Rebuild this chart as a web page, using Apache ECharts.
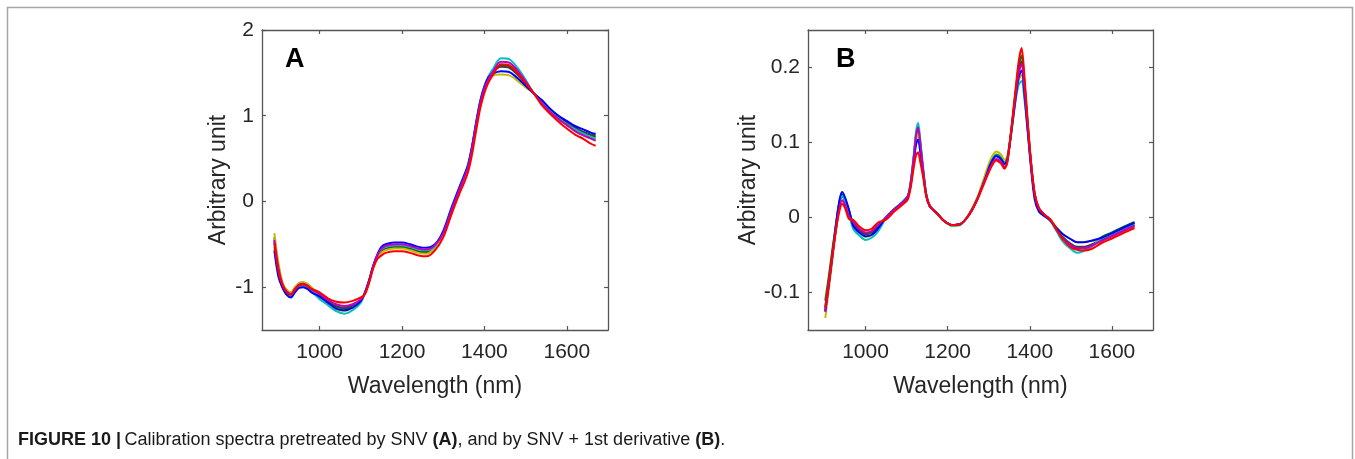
<!DOCTYPE html>
<html><head><meta charset="utf-8">
<script src="https://cdn.jsdelivr.net/npm/echarts@6/dist/echarts.min.js"></script>
<style>html,body{margin:0;padding:0;background:#fff}#c{width:1355px;height:459px}</style>
</head><body><div id="c"></div>
<script>
// ---------- Panel A: SNV spectra ----------
const wavelengthA = [890,900,910,920,930,940,950,960,970,980,1000,1020,1040,1060,1080,1100,1110,1120,1130,1140,1150,1160,1180,1200,1220,1240,1260,1280,1300,1320,1340,1350,1360,1370,1380,1390,1400,1410,1420,1440,1460,1480,1500,1520,1540,1560,1580,1600,1620,1640,1660,1670];
const snvBlue = [-0.57,-0.88,-1.01,-1.09,-1.12,-1.06,-1.01,-1.00,-1.02,-1.06,-1.11,-1.18,-1.25,-1.27,-1.24,-1.16,-1.06,-0.92,-0.75,-0.62,-0.53,-0.50,-0.48,-0.48,-0.50,-0.53,-0.54,-0.50,-0.35,-0.08,0.17,0.29,0.42,0.64,0.92,1.17,1.34,1.45,1.49,1.52,1.51,1.44,1.35,1.26,1.18,1.08,1.00,0.94,0.88,0.84,0.80,0.79];
const snvGreen = [-0.47,-0.80,-0.98,-1.06,-1.09,-1.03,-0.98,-0.97,-0.99,-1.03,-1.10,-1.17,-1.23,-1.25,-1.22,-1.15,-1.07,-0.93,-0.76,-0.64,-0.58,-0.55,-0.53,-0.53,-0.55,-0.58,-0.59,-0.53,-0.37,-0.10,0.15,0.27,0.40,0.62,0.90,1.15,1.32,1.43,1.50,1.59,1.58,1.50,1.38,1.26,1.16,1.06,0.98,0.91,0.86,0.81,0.77,0.75];
const snvRed = [-0.49,-0.82,-0.98,-1.06,-1.09,-1.03,-0.98,-0.97,-0.99,-1.02,-1.06,-1.13,-1.17,-1.18,-1.16,-1.12,-1.08,-0.95,-0.78,-0.67,-0.63,-0.60,-0.58,-0.58,-0.60,-0.63,-0.64,-0.57,-0.42,-0.15,0.10,0.21,0.34,0.55,0.83,1.09,1.27,1.39,1.47,1.60,1.59,1.50,1.38,1.26,1.12,1.02,0.93,0.85,0.78,0.73,0.67,0.65];
const snvCyan = [-0.53,-0.85,-1.00,-1.08,-1.11,-1.05,-1.00,-0.99,-1.01,-1.05,-1.14,-1.21,-1.28,-1.31,-1.27,-1.18,-1.06,-0.92,-0.75,-0.63,-0.56,-0.53,-0.51,-0.51,-0.53,-0.56,-0.57,-0.52,-0.34,-0.07,0.18,0.30,0.43,0.65,0.93,1.18,1.35,1.46,1.54,1.67,1.66,1.56,1.42,1.26,1.15,1.05,0.97,0.90,0.84,0.79,0.75,0.73];
const snvMagenta = [-0.45,-0.78,-0.97,-1.05,-1.08,-1.02,-0.97,-0.96,-0.98,-1.02,-1.08,-1.15,-1.20,-1.22,-1.20,-1.14,-1.07,-0.93,-0.76,-0.63,-0.55,-0.52,-0.50,-0.50,-0.52,-0.55,-0.56,-0.51,-0.37,-0.10,0.15,0.27,0.40,0.62,0.90,1.15,1.32,1.43,1.51,1.63,1.62,1.53,1.40,1.26,1.14,1.04,0.96,0.89,0.82,0.77,0.73,0.71];
const snvYellow = [-0.37,-0.72,-0.95,-1.03,-1.06,-1.00,-0.95,-0.94,-0.96,-1.00,-1.12,-1.19,-1.26,-1.28,-1.24,-1.16,-1.08,-0.94,-0.77,-0.65,-0.60,-0.57,-0.55,-0.55,-0.57,-0.60,-0.61,-0.54,-0.39,-0.12,0.13,0.25,0.38,0.60,0.88,1.13,1.30,1.41,1.47,1.48,1.47,1.41,1.33,1.26,1.15,1.04,0.96,0.89,0.82,0.77,0.73,0.71];
const snvDark = [-0.42,-0.76,-0.96,-1.04,-1.07,-1.01,-0.96,-0.95,-0.97,-1.01,-1.09,-1.16,-1.22,-1.24,-1.21,-1.15,-1.07,-0.93,-0.76,-0.65,-0.59,-0.56,-0.54,-0.54,-0.56,-0.59,-0.60,-0.54,-0.36,-0.09,0.16,0.28,0.41,0.63,0.91,1.16,1.33,1.44,1.51,1.57,1.56,1.48,1.37,1.26,1.17,1.07,0.99,0.92,0.86,0.81,0.78,0.77];

// ---------- Panel B: SNV + 1st derivative ----------
const wavelengthB = [902,910,920,930,937,943,950,960,970,985,1000,1015,1030,1050,1070,1090,1103,1110,1117,1123,1128,1133,1140,1148,1156,1165,1175,1190,1210,1230,1250,1270,1290,1305,1318,1330,1338,1345,1355,1365,1373,1380,1387,1395,1403,1412,1422,1435,1450,1465,1480,1500,1515,1530,1550,1575,1600,1630,1655];
const derBlue = [-0.125,-0.092,-0.048,-0.002,0.024,0.034,0.027,0.010,-0.011,-0.020,-0.025,-0.023,-0.015,0.000,0.011,0.020,0.028,0.043,0.072,0.097,0.104,0.089,0.061,0.029,0.015,0.010,0.005,-0.004,-0.010,-0.009,0.002,0.022,0.050,0.072,0.082,0.078,0.071,0.077,0.114,0.158,0.187,0.196,0.165,0.115,0.066,0.024,0.008,0.002,-0.004,-0.014,-0.022,-0.029,-0.033,-0.033,-0.031,-0.027,-0.021,-0.013,-0.007];
const derGreen = [-0.111,-0.081,-0.040,-0.003,0.020,0.028,0.022,0.006,-0.008,-0.017,-0.022,-0.020,-0.012,0.000,0.011,0.020,0.028,0.046,0.077,0.108,0.118,0.100,0.065,0.030,0.016,0.010,0.005,-0.004,-0.010,-0.009,0.002,0.022,0.051,0.073,0.084,0.080,0.073,0.079,0.117,0.166,0.201,0.216,0.181,0.125,0.074,0.031,0.012,0.004,-0.003,-0.015,-0.027,-0.037,-0.041,-0.041,-0.038,-0.026,-0.020,-0.012,-0.006];
const derRed = [-0.120,-0.088,-0.046,-0.010,0.010,0.018,0.013,-0.002,-0.003,-0.012,-0.017,-0.015,-0.007,-0.003,0.008,0.017,0.024,0.040,0.065,0.083,0.087,0.075,0.055,0.028,0.016,0.010,0.005,-0.004,-0.010,-0.009,0.002,0.021,0.047,0.066,0.076,0.072,0.065,0.073,0.118,0.169,0.208,0.226,0.188,0.128,0.074,0.032,0.013,0.004,-0.003,-0.016,-0.029,-0.040,-0.043,-0.044,-0.042,-0.034,-0.028,-0.020,-0.014];
const derCyan = [-0.124,-0.091,-0.049,-0.003,0.021,0.029,0.023,0.006,-0.015,-0.024,-0.030,-0.027,-0.019,-0.001,0.011,0.021,0.029,0.048,0.081,0.114,0.126,0.106,0.067,0.031,0.016,0.010,0.005,-0.004,-0.011,-0.010,0.002,0.022,0.050,0.072,0.083,0.079,0.072,0.077,0.113,0.154,0.177,0.182,0.157,0.115,0.070,0.030,0.012,0.003,-0.005,-0.018,-0.032,-0.042,-0.047,-0.045,-0.039,-0.028,-0.022,-0.014,-0.008];
const derMagenta = [-0.126,-0.093,-0.049,-0.008,0.014,0.023,0.017,0.001,-0.006,-0.015,-0.020,-0.018,-0.010,0.000,0.011,0.020,0.028,0.046,0.078,0.109,0.120,0.101,0.065,0.030,0.016,0.010,0.005,-0.004,-0.010,-0.009,0.002,0.022,0.049,0.068,0.078,0.074,0.067,0.073,0.115,0.161,0.193,0.204,0.173,0.121,0.072,0.030,0.012,0.004,-0.003,-0.016,-0.028,-0.037,-0.041,-0.041,-0.038,-0.031,-0.025,-0.017,-0.011];
const derYellow = [-0.134,-0.100,-0.055,-0.009,0.014,0.022,0.016,0.000,-0.012,-0.021,-0.026,-0.024,-0.016,0.001,0.011,0.020,0.028,0.045,0.075,0.103,0.112,0.095,0.063,0.030,0.016,0.010,0.005,-0.004,-0.011,-0.010,0.003,0.024,0.055,0.078,0.088,0.084,0.077,0.081,0.114,0.156,0.183,0.190,0.163,0.117,0.070,0.029,0.011,0.003,-0.003,-0.013,-0.022,-0.029,-0.033,-0.033,-0.031,-0.032,-0.026,-0.018,-0.012];
const derDark = [-0.120,-0.088,-0.045,-0.001,0.022,0.031,0.025,0.009,-0.008,-0.017,-0.022,-0.020,-0.012,0.000,0.011,0.020,0.028,0.045,0.077,0.106,0.116,0.098,0.064,0.030,0.016,0.010,0.005,-0.004,-0.010,-0.009,0.002,0.022,0.051,0.072,0.082,0.078,0.071,0.076,0.116,0.163,0.196,0.208,0.176,0.122,0.072,0.030,0.012,0.004,-0.003,-0.015,-0.026,-0.035,-0.039,-0.039,-0.036,-0.030,-0.024,-0.016,-0.010];

// ---------- tick labels / texts ----------
const xTicks = [1000, 1200, 1400, 1600];
const yTicksA = [-1, 0, 1, 2];
const yTicksB = [-0.1, 0, 0.1, 0.2];
const xName = 'Wavelength (nm)';
const yName = 'Arbitrary unit';

// ---------- styling ----------
const lineColors = {
  green: '#008000', dark: '#404040', yellow: '#bfbf00', cyan: '#00bfbf',
  blue: '#0000ff', magenta: '#bf00bf', red: '#ff0000'
};
const FONT = '"Liberation Sans", Arial, Helvetica, sans-serif';
const TXT = '#262626';
const AX = '#555555';

const chart = echarts.init(document.getElementById('c'), null, {renderer: 'canvas'});

function zip(xs, ys) { return xs.map((x, i) => [x, ys[i]]); }

const seriesA = [
  ['green', snvGreen], ['dark', snvDark], ['yellow', snvYellow], ['cyan', snvCyan],
  ['blue', snvBlue], ['magenta', snvMagenta], ['red', snvRed]
];
const seriesB = [
  ['green', derGreen], ['dark', derDark], ['yellow', derYellow], ['cyan', derCyan],
  ['blue', derBlue], ['magenta', derMagenta], ['red', derRed]
];

function mkSeries(list, xs, axisIdx) {
  return list.map(([c, ys]) => ({
    type: 'line', xAxisIndex: axisIdx, yAxisIndex: axisIdx,
    data: zip(xs, ys), showSymbol: false, symbol: 'none', smooth: 0.3,
    lineStyle: {color: lineColors[c], width: 2}, silent: true
  }));
}

const plainNum = v => String(v);

function xAx(grid, pos, labels) {
  return {
    type: 'value', gridIndex: grid, position: pos, min: 860, max: 1700,
    splitLine: {show: false},
    axisLine: {show: true, onZero: false, lineStyle: {color: AX, width: 1.3}},
    axisTick: {show: true, inside: true, length: 4, customValues: xTicks, lineStyle: {color: AX, width: 1.2}},
    axisLabel: {show: labels, customValues: xTicks, formatter: plainNum, margin: 12, fontSize: 21, color: TXT, fontFamily: FONT},
    name: labels ? xName : '', nameLocation: 'middle', nameGap: 45,
    nameTextStyle: {fontSize: 23, color: TXT, fontFamily: FONT}
  };
}
function yAx(grid, pos, labels, min, max, ticks, gap) {
  return {
    type: 'value', gridIndex: grid, position: pos, min: min, max: max,
    splitLine: {show: false},
    axisLine: {show: true, onZero: false, lineStyle: {color: AX, width: 1.3}},
    axisTick: {show: true, inside: true, length: 4, customValues: ticks, lineStyle: {color: AX, width: 1.2}},
    axisLabel: {show: labels, customValues: ticks, formatter: plainNum, margin: 8, fontSize: 21, color: TXT, fontFamily: FONT},
    name: labels ? yName : '', nameLocation: 'middle', nameGap: gap,
    nameTextStyle: {fontSize: 23, color: TXT, fontFamily: FONT}
  };
}

const option = {
  animation: false,
  backgroundColor: '#ffffff',
  grid: [
    {left: 262, top: 30, width: 346, height: 300, containLabel: false},
    {left: 808, top: 30, width: 345, height: 300, containLabel: false}
  ],
  xAxis: [xAx(0, 'bottom', true), xAx(0, 'top', false), xAx(1, 'bottom', true), xAx(1, 'top', false)],
  yAxis: [
    yAx(0, 'left', true, -1.5, 2, yTicksA, 32), yAx(0, 'right', false, -1.5, 2, yTicksA, 0),
    yAx(1, 'left', true, -0.15, 0.25, yTicksB, 48), yAx(1, 'right', false, -0.15, 0.25, yTicksB, 0)
  ],
  series: mkSeries(seriesA, wavelengthA, 0).concat(mkSeries(seriesB, wavelengthB, 2)),
  graphic: [
    {type: 'polyline', silent: true, shape: {points: [[7.5, 460], [7.5, 7.5], [1352.5, 7.5], [1352.5, 460]]},
     style: {stroke: '#a6a6a6', lineWidth: 1.5, fill: null}},
    {type: 'text', left: 285, top: 46, style: {text: 'A', font: 'bold 27px ' + FONT, fill: '#000'}},
    {type: 'text', left: 836, top: 46, style: {text: 'B', font: 'bold 27px ' + FONT, fill: '#000'}},
    {type: 'text', left: 18, top: 431, style: {
      text: '{b|FIGURE 10 |} {r|Calibration spectra pretreated by SNV }{b|(A)}{r|, and by SNV + 1st derivative }{b|(B)}{r|.}',
      rich: {
        b: {font: 'bold 18px ' + FONT, fill: '#1a1a1a'},
        r: {font: '18px ' + FONT, fill: '#1a1a1a'}
      }
    }}
  ]
};
chart.setOption(option);
</script>
</body></html>
